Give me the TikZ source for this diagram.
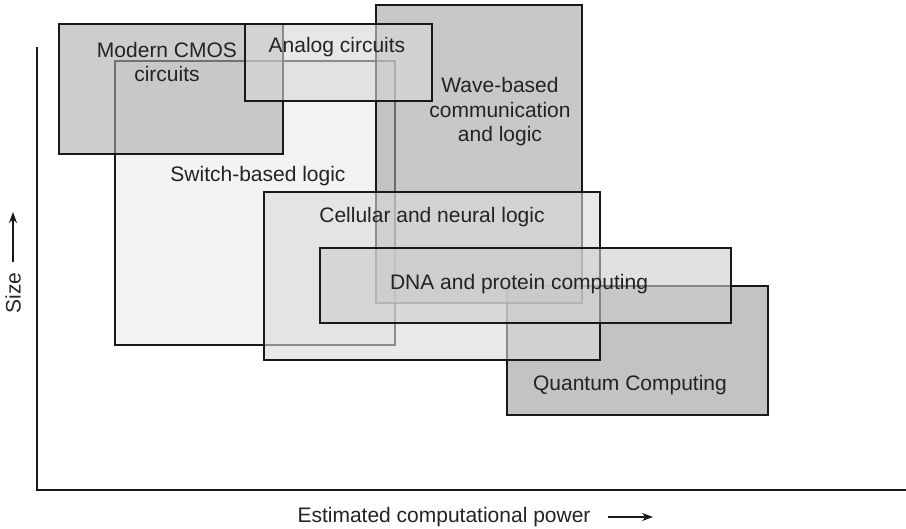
\documentclass[tikz,border=0pt]{standalone}
\usepackage{fontspec}
\setmainfont{Liberation Sans}
\usetikzlibrary{arrows.meta}
\definecolor{txt}{RGB}{35,35,35}
\definecolor{fswitch}{RGB}{243,243,243}
\definecolor{fcmos}{RGB}{172,172,172}
\definecolor{fwave}{RGB}{163,163,163}
\definecolor{fquant}{RGB}{155,155,155}
\definecolor{fanalog}{RGB}{215,215,215}
\definecolor{fcell}{RGB}{218,218,218}
\definecolor{fdna}{RGB}{205,205,205}
\begin{document}
\begin{tikzpicture}[x=1pt,y=-1pt,
  box/.style={draw=black!90, line width=1.6pt, fill opacity=0.6},
  lbl/.style={font=\fontsize{21}{24.5}\selectfont, text=txt, align=center, inner sep=0pt},
  axis/.style={draw=black!90, line width=2.2pt},
  arr/.style={draw=black!90, line width=1.5pt, -{Stealth[length=11pt,width=8pt]}}]
\useasboundingbox (0,0) rectangle (906,529);
% axes
\coordinate (ytop) at (37,47);
\coordinate (xend) at (906,490);
\draw[axis] (ytop) |- (xend);
% boxes, bottom to top
\path[box, fill=fswitch, fill opacity=1] (115,61) rectangle (395,345);
\path[box, fill=fquant] (507,286) rectangle (768,415);
\path[box, fill=fwave] (376,5) rectangle (582,303);
\path[box, fill=fcmos] (59,24) rectangle (283,154);
\path[box, fill=fanalog] (245,24) rectangle (432,101);
\path[box, fill=fcell] (264,192) rectangle (600,360);
\path[box, fill=fdna] (320,248) rectangle (731,323);
% labels
\node[lbl] (cmos) at (167,62) {Modern CMOS\\circuits};
\node[lbl] (analog) at (337,47) {Analog circuits};
\node[lbl] (wave) at (500,112) {Wave-based\\communication\\and logic};
\node[lbl] (switch) at (258,176) {Switch-based logic};
\node[lbl] (cell) at (432,217) {Cellular and neural logic};
\node[lbl] (dna) at (519,284) {DNA and protein computing};
\node[lbl] (quant) at (630,385) {Quantum Computing};
% axis labels
\node[lbl, rotate=90] (size) at (13,293) {Size};
\coordinate (sa) at (13,262);
\coordinate (sb) at (13,212);
\draw[arr] (sa) -- (sb);
\node[lbl] (power) at (444,517) {Estimated computational power};
\coordinate (pa) at (608,517);
\coordinate (pb) at (653,517);
\draw[arr] (pa) -- (pb);
\end{tikzpicture}
\end{document}
